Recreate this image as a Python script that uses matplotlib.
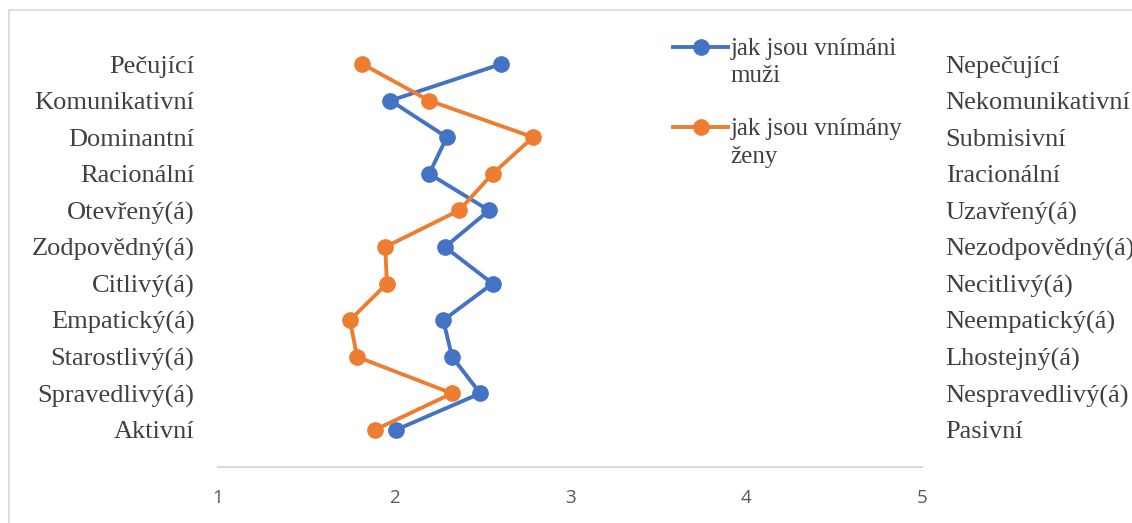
import matplotlib
matplotlib.use("Agg")
import matplotlib.pyplot as plt
from matplotlib.lines import Line2D
from matplotlib.patches import Rectangle

# -----------------------------
# Data
# -----------------------------
left_labels = ["Pečující", "Komunikativní", "Dominantní", "Racionální", "Otevřený(á)",
               "Zodpovědný(á)", "Citlivý(á)", "Empatický(á)", "Starostlivý(á)",
               "Spravedlivý(á)", "Aktivní"]
right_labels = ["Nepečující", "Nekomunikativní", "Submisivní", "Iracionální", "Uzavřený(á)",
                "Nezodpovědný(á)", "Necitlivý(á)", "Neempatický(á)", "Lhostejný(á)",
                "Nespravedlivý(á)", "Pasivní"]
muzi = [2.61, 1.98, 2.30, 2.20, 2.54, 2.29, 2.56, 2.28, 2.33, 2.49, 2.01]
zeny = [1.82, 2.20, 2.79, 2.56, 2.37, 1.95, 1.96, 1.75, 1.79, 2.33, 1.89]
legend_lines = [["jak jsou vnímáni", "muži"], ["jak jsou vnímány", "ženy"]]
x_ticks = [1, 2, 3, 4, 5]

BLUE = "#4472C4"
ORANGE = "#ED7D31"
TEXT = "#404040"
SERIF = "Liberation Serif"

# positions from top (11) down to bottom (1)
ypos = list(range(len(left_labels), 0, -1))

fig = plt.figure(figsize=(11.32, 5.23), dpi=100)
ax = fig.add_axes([218 / 1132, 1 - 466.6 / 523, (922 - 218) / 1132, (466.6 - 27.4) / 523])

l1, = ax.plot(muzi, ypos, color=BLUE, lw=2.8, marker="o", ms=11, zorder=3)
l2, = ax.plot(zeny, ypos, color=ORANGE, lw=2.8, marker="o", ms=11, zorder=3)

ax.set_xlim(1, 5)
ax.set_ylim(0, 12)

for s in ["top", "left", "right"]:
    ax.spines[s].set_visible(False)
ax.spines["bottom"].set_color("#D9D9D9")
ax.spines["bottom"].set_linewidth(1.5)

ax.set_xticks(x_ticks)
ax.set_xticklabels([str(t) for t in x_ticks], fontsize=13.5, color="#595959", family="Open Sans")
ax.tick_params(axis="x", length=0, pad=16)

ax.set_yticks(ypos)
ax.set_yticklabels(left_labels, fontsize=19, color=TEXT, family=SERIF)
ax.tick_params(axis="y", length=0, pad=17)

ax2 = ax.twinx()
ax2.set_ylim(ax.get_ylim())
ax2.set_yticks(ypos)
ax2.set_yticklabels(right_labels, fontsize=19, color=TEXT, family=SERIF)
ax2.tick_params(axis="y", length=0, pad=17)
for s in ax2.spines.values():
    s.set_visible(False)

# legend: handle sits on the first text line, second line without handle
blank = Line2D([], [], lw=0)
for line, texts, top in [(l1, legend_lines[0], 38), (l2, legend_lines[1], 118)]:
    leg = fig.legend([line, blank], texts, loc="upper left",
                     bbox_to_anchor=(673 / 1132, 1 - top / 523),
                     frameon=False, handlelength=2.2, handletextpad=0.1, labelspacing=0.18,
                     borderpad=0, borderaxespad=0, prop={"family": SERIF, "size": 18})
    for t in leg.get_texts():
        t.set_color(TEXT)

# chart border
fig.patches.append(Rectangle((9 / 1132, -0.1), 1.2, 1.1 - 10 / 523, transform=fig.transFigure,
                             fill=False, edgecolor="#D9D9D9", lw=1.2))

fig.savefig("out.png", dpi=100)
